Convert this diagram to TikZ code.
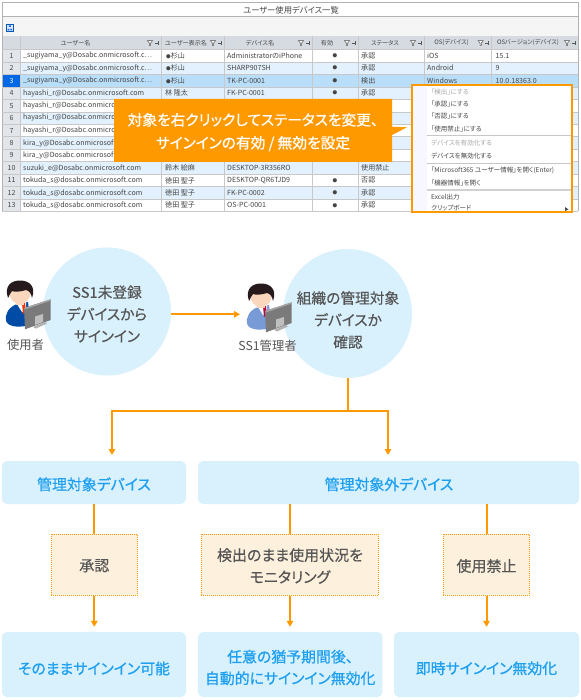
\documentclass[tikz,border=0pt]{standalone}
\usepackage{fontspec}
\setmainfont{Noto Sans CJK JP}[RawFeature=+palt]
\newfontfamily\medf{Noto Sans CJK JP}[RawFeature=+palt,FakeBold=0.35]
\newfontfamily\semif{Noto Sans CJK JP}[RawFeature=+palt,FakeBold=0.7]
\usetikzlibrary{arrows.meta}
\definecolor{oran}{HTML}{FF9900}
\definecolor{skyb}{HTML}{D9F0FD}
\definecolor{cream}{HTML}{FDF0DC}
\definecolor{labelb}{HTML}{1EA0F0}
\definecolor{darkt}{HTML}{555555}
\definecolor{tabt}{HTML}{454545}
\definecolor{grid}{HTML}{C8C8C8}
\definecolor{hdr}{HTML}{D6DBE2}
\definecolor{stripe}{HTML}{E2F1FD}
\definecolor{selrow}{HTML}{B9DEF9}
\definecolor{peachf}{HTML}{FAD6BC}
\definecolor{hairc}{HTML}{261A1C}
\newcounter{cellno}
\newcommand{\tcell}[3]{\stepcounter{cellno}\node[tabtxt] (cell\arabic{cellno}) at (#1,#2) {#3};}
\newcommand{\ccell}[3]{\stepcounter{cellno}\node[tabctr] (cell\arabic{cellno}) at (#1,#2) {#3};}
\newcommand{\hcell}[3]{\stepcounter{cellno}\node[tabhdr] (cell\arabic{cellno}) at (#1,#2) {#3};}
\newcommand{\menutxt}[3]{\stepcounter{cellno}\node[menut,text=#3] (cell\arabic{cellno}) at (431,#1) {#2};}
\newcommand{\smalldot}{{\fontsize{4.6}{6}\selectfont ●}}
\newcommand{\hicon}[1]{%
  \draw[black!70,line width=.5pt,fill=white] (#1-13.5,40.7) -- (#1-8.5,40.7) -- (#1-10.3,43) -- (#1-10.3,45.3) -- (#1-11.7,45.3) -- (#1-11.7,43) -- cycle;
  \draw[black!65,line width=.6pt] (#1-6.5,43) -- (#1-3,43) (#1-3,41) -- (#1-3,45);
}
\newcommand{\person}[4]{%
 \begin{scope}[shift={(#1,#2)}]
  \fill[#3] (6.5,322) .. controls (4,314) and (9,307) .. (17,304) -- (28,302) -- (31,325) .. controls (20,327.5) and (10,327.5) .. (6.5,322);
  \fill[white] (17,304) -- (26,301) -- (26,312) -- (22,312) -- cycle;
  \fill[#4] (22,303) -- (25,302.5) -- (26,312) -- (23,314) -- cycle;
  \fill[#3!70!white] (31,312) circle (3);
  \fill[peachf] (20,293) ellipse (10.5 and 11);
  \fill[peachf] (16,298) rectangle (24,304.5);
  \fill[hairc] (8,298) .. controls (4,286) and (11,280.5) .. (20,280.5) .. controls (30,280.5) and (36,287) .. (32,298) .. controls (31,293) and (29.5,291) .. (26,290) .. controls (20,292) and (14,292) .. (12,291) .. controls (10.5,293) and (9.5,295) .. (8,298);
  \fill[black!52] (24,308) -- (50.7,299.3) -- (50.7,320) -- (25,329.3) -- cycle;
  \fill[black!35] (24,308) -- (50.7,299.3) -- (50.7,300.6) -- (25,309.4) -- cycle;
  \fill[black!25] (35,316.5) -- (43,314) -- (43,322) -- (35,325) -- cycle;
  \fill[black!30] (33,327) -- (45,322) -- (47,323.5) -- (36,328.5) -- cycle;
 \end{scope}}
\tikzset{
  tabtxt/.style={anchor=west,inner sep=0pt,text=tabt,font=\fontsize{7.05}{8}\selectfont},
  tabctr/.style={anchor=center,inner sep=0pt,text=tabt,font=\fontsize{7.05}{8}\selectfont},
  tabhdr/.style={anchor=center,inner sep=0pt,text=tabt,font=\fontsize{6.1}{8}\selectfont},
  menut/.style={anchor=west,inner sep=0pt,font=\fontsize{6.5}{8}\selectfont},
  bluebox/.style={fill=skyb,rounded corners=5pt,inner sep=0pt},
  bluet/.style={inner sep=0pt,text=labelb,align=center,font=\fontsize{14.9}{21.6}\selectfont\semif},
  notebox/.style={fill=cream,draw=oran,line width=1pt,dash pattern=on 1pt off 1pt,inner sep=0pt},
  notet/.style={inner sep=0pt,align=center,text=darkt,font=\fontsize{15}{22}\selectfont\medf},
  bigc/.style={circle,fill=skyb,inner sep=0pt},
  circt/.style={inner sep=0pt,align=center,text=darkt,font=\fontsize{14.7}{22}\selectfont\medf},
  perst/.style={inner sep=0pt,text=darkt,font=\fontsize{12.3}{14}\selectfont},
  link/.style={draw=oran,line width=2pt},
  flow/.style={link,-{Triangle[length=6pt,width=6.5pt]}},
}
\begin{document}
\begin{tikzpicture}[x=1pt,y=-1pt]
\useasboundingbox (0,0) rectangle (580,700);
\fill[white] (0,0) rectangle (580,700);
% ---- table ----
\fill[black!4] (2,17) rectangle (578,36);
\fill[hdr] (2,36) rectangle (578,49.5);
\fill[hdr!70!white] (2,49.5) rectangle (20,211.5);
\foreach \yy in {68.2,93.1,118,143,167.9,192.8}{
  \fill[stripe] (20,\yy-6.2) rectangle (578,\yy+6.2);}
\fill[selrow] (20,74.4) rectangle (578,86.8);
\fill[blue!55!cyan!90!black] (2,74.4) rectangle (20,86.8);
\draw[black!35,densely dotted,line width=.5pt] (20,74.4) rectangle (578,86.8);
\draw[black!30,line width=1pt] (2,3) rectangle (578,17);
\draw[black!30,line width=.8pt] (2,3) -- (2,211.5);
\draw[black!30,line width=.8pt] (578,3) -- (578,211.5);
\foreach \xx in {20,161,224,312,358,424,491.7}{
  \draw[grid,line width=.6pt] (\xx,36) -- (\xx,211.5);}
\foreach \yy in {49.5,62,74.4,86.9,99.4,111.8,124.3,136.7,149.2,161.6,174.1,186.6,199,211.5}{
  \draw[grid,line width=.5pt] (2,\yy) -- (578,\yy);}
\foreach \xx in {161,224,312,358,424,491.7,578}{\hicon{\xx}}
% toolbar icon
\draw[blue!50!cyan!70!black,fill=blue!10,line width=.6pt] (6.5,24) rectangle (13,31.5);
\fill[blue!60!cyan] (8.8,25.5) rectangle (10.8,27) (7.5,28.8) rectangle (9.3,30.3) (10.3,28.8) rectangle (12,30.3);
\node[inner sep=0pt,text=tabt,font=\fontsize{8.3}{9}\selectfont] (title) at (291,10) {ユーザー使用デバイス一覧};
% headers
\hcell{75.5}{42.7}{ユーザー名}
\hcell{186}{42.7}{ユーザー表示名}
\hcell{260}{42.7}{デバイス名}
\hcell{327}{42.7}{有効}
\hcell{385}{42.7}{ステータス}
\hcell{451.5}{42.7}{OS(デバイス)}
\hcell{528}{42.7}{OSバージョン(デバイス)}
% row numbers
\foreach \nn/\yy in {1/55.7,2/68.2,4/93.1,5/105.6,6/118,7/130.5,8/143,9/155.4,10/167.9,11/180.4,12/192.8,13/205.3}{
  \ccell{11.5}{\yy}{\nn}}
\node[tabctr,text=white] (rowsel) at (11.5,80.6) {3};
% rows
\tcell{23}{55.7}{\_sugiyama\_y@Dosabc.onmicrosoft.c…}
\tcell{23}{68.2}{\_sugiyama\_y@Dosabc.onmicrosoft.c…}
\tcell{23}{80.6}{\_sugiyama\_y@Dosabc.onmicrosoft.c…}
\tcell{23}{93.1}{hayashi\_r@Dosabc.onmicrosoft.com}
\tcell{23}{105.6}{hayashi\_r@Dosabc.onmicro}
\tcell{23}{118}{hayashi\_r@Dosabc.onmicro}
\tcell{23}{130.5}{hayashi\_r@Dosabc.onmicro}
\tcell{23}{143}{kira\_y@Dosabc.onmicrosoft}
\tcell{23}{155.4}{kira\_y@Dosabc.onmicrosoft}
\tcell{23}{167.9}{suzuki\_e@Dosabc.onmicrosoft.com}
\tcell{23}{180.4}{tokuda\_s@dosabc.onmicrosoft.com}
\tcell{23}{192.8}{tokuda\_s@dosabc.onmicrosoft.com}
\tcell{23}{205.3}{tokuda\_s@dosabc.onmicrosoft.com}
\foreach \yy in {55.7,68.2,80.6}{\tcell{166}{\yy}{\smalldot 杉山}}
\tcell{165}{93.1}{林 隆太}
\tcell{165}{167.9}{鈴木 絵麻}
\foreach \yy in {180.4,192.8,205.3}{\tcell{165}{\yy}{徳田 聖子}}
\tcell{227}{55.7}{AdministratorのiPhone}
\tcell{227}{68.2}{SHARP907SH}
\tcell{227}{80.6}{TK-PC-0001}
\tcell{227}{93.1}{FK-PC-0001}
\tcell{227}{167.9}{DESKTOP-3R356RO}
\tcell{227}{180.4}{DESKTOP-QR6TJD9}
\tcell{227}{192.8}{FK-PC-0002}
\tcell{227}{205.3}{OS-PC-0001}
\foreach \yy in {55.7,68.2,80.6,93.1,180.4,192.8,205.3}{\ccell{335}{\yy}{\smalldot}}
\tcell{361}{55.7}{承認}
\tcell{361}{68.2}{承認}
\tcell{361}{80.6}{検出}
\tcell{361}{93.1}{承認}
\tcell{361}{167.9}{使用禁止}
\tcell{361}{180.4}{否認}
\tcell{361}{192.8}{承認}
\tcell{361}{205.3}{承認}
\tcell{427}{55.7}{iOS}
\tcell{427}{68.2}{Android}
\tcell{427}{80.6}{Windows}
\tcell{495.5}{55.7}{15.1}
\tcell{495.5}{68.2}{9}
\tcell{495.5}{80.6}{10.0.18363.0}
% ---- callout ----
\fill[oran] (114,99) -- (392,99) -- (392,126.7) -- (407,127.3) -- (392,135) -- (392,162) -- (114,162) -- cycle;
\node[inner sep=0pt,align=center,text=white,font=\fontsize{14.7}{23}\selectfont\semif] (callout) at (253,132) {対象を右クリックしてステータスを変更、\\サインインの有効 / 無効を設定};
% ---- context menu ----
\fill[white] (412,85) rectangle (572,212);
\fill[blue!3] (413,85) rectangle (427,212);
\draw[black!22,line width=1pt] (427,136) -- (571,136);
\draw[black!22,line width=.8pt] (427,163.5) -- (571,163.5);
\draw[black!18,line width=1.5pt] (427,190) -- (571,190);
\menutxt{92}{「検出」にする}{black!35}
\menutxt{104.3}{「承認」にする}{tabt}
\menutxt{116.5}{「否認」にする}{tabt}
\menutxt{129}{「使用禁止」にする}{tabt}
\menutxt{143.3}{デバイスを有効化する}{black!35}
\menutxt{156}{デバイスを無効化する}{tabt}
\menutxt{170.3}{「Microsoft365 ユーザー情報」を開く(Enter)}{tabt}
\menutxt{183}{「機器情報」を開く}{tabt}
\menutxt{197}{Excel出力}{tabt}
\begin{scope}
\clip (413,200) rectangle (571,211);
\menutxt{208.5}{クリップボード}{tabt}
\end{scope}
\fill[black!70] (565,207) -- (568.5,209.5) -- (565,211) -- cycle;
\draw[oran,line width=1.6pt] (412,85) rectangle (572,212);
% ---- circles ----
\node[bigc,minimum size=128pt] (c1) at (107,311.5) {};
\node[bigc,minimum size=129pt] (c2) at (347.5,313.5) {};
\node[circt] (c1t) at (107,314) {SS1未登録\\デバイスから\\サインイン};
\node[circt] (c2t) at (348,320) {組織の管理対象\\デバイスか\\確認};
\person{0}{0}{blue!55!cyan!65!black}{red!60!orange}
\person{241}{3}{cyan!45!blue!55!white}{purple}
\node[perst] (u1) at (25.5,345) {使用者};
\node[perst] (u2) at (267.5,346) {SS1管理者};
\coordinate (p2in) at (240,314.3);
\draw[flow] (c1.east |- p2in) -- (p2in);
% ---- flow boxes ----
\node[bluebox,minimum width=184pt,minimum height=43pt] (mgd) at (94,482.5) {};
\node[bluebox,minimum width=381pt,minimum height=43pt] (unm) at (388.5,482.5) {};
\node[bluet] (mgdt) at (94,484.3) {管理対象デバイス};
\node[bluet] (unmt) at (389,484.3) {管理対象外デバイス};
\node[notebox,minimum width=86.5pt,minimum height=61pt] (n1) at (94.3,564.5) {};
\node[notebox,minimum width=177.5pt,minimum height=61pt] (n2) at (290,564.5) {};
\node[notebox,minimum width=86.5pt,minimum height=61pt] (n3) at (486.5,564.5) {};
\node[notet] (n1t) at (94.3,565.7) {承認};
\node[notet] (n2t) at (290,566) {検出のまま使用状況を\\モニタリング};
\node[notet] (n3t) at (486.5,566) {使用禁止};
\node[bluebox,minimum width=184pt,minimum height=65pt] (e1) at (94,664.5) {};
\node[bluebox,minimum width=184.5pt,minimum height=65pt] (e2) at (290.2,664.5) {};
\node[bluebox,minimum width=185pt,minimum height=65pt] (e3) at (486.5,664.5) {};
\node[bluet] (e1t) at (94,668.5) {そのままサインイン可能};
\node[bluet] (e2t) at (290.2,667.5) {任意の猶予期間後、\\自動的にサインイン無効化};
\node[bluet] (e3t) at (486.5,668.3) {即時サインイン無効化};
\coordinate (split) at (348,411);
\coordinate (inL) at (112,455);
\coordinate (inR) at (388,455);
\draw[link] (c2.south -| split) -- (split);
\draw[flow] (split) -| (inL);
\draw[flow] (split) -| (inR);
\draw[link] (mgd.south -| n1.north) -- (n1.north);
\draw[link] (unm.south -| n2.north) -- (n2.north);
\draw[link] (unm.south -| n3.north) -- (n3.north);
\draw[flow,shorten >=5pt] (n1.south) -- (n1.south |- e1.north);
\draw[flow,shorten >=5pt] (n2.south) -- (n2.south |- e2.north);
\draw[flow,shorten >=5pt] (n3.south) -- (n3.south |- e3.north);
\end{tikzpicture}
\end{document}
